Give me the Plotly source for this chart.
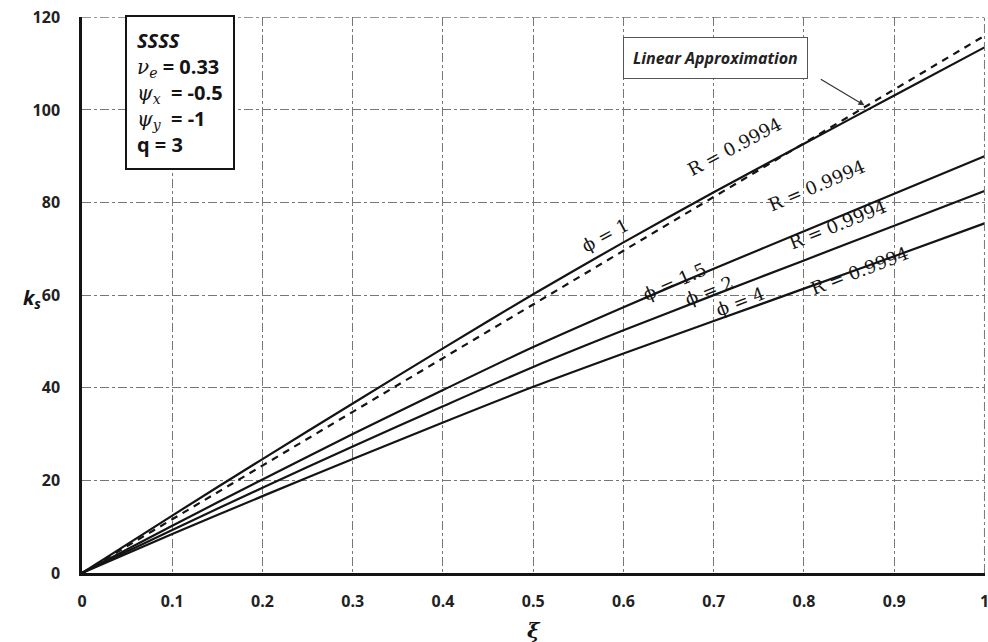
import plotly.graph_objects as go

# Non-dimensional parameter xi and the resulting k_s for each phi
xi = [0, 0.1, 0.2, 0.3, 0.4, 0.5, 0.6, 0.7, 0.8, 0.9, 1.0]
ks_phi1 = [0, 12.4, 24.6, 36.6, 48.5, 60.2, 71.4, 82.2, 92.7, 103.1, 113.5]
ks_phi15 = [0, 10.2, 20.2, 30.0, 39.5, 48.8, 57.4, 65.7, 73.8, 81.9, 90.0]
ks_phi2 = [0, 9.3, 18.4, 27.3, 36.0, 44.5, 52.4, 60.0, 67.5, 75.0, 82.5]
ks_phi4 = [0, 8.4, 16.6, 24.6, 32.5, 40.2, 47.4, 54.4, 61.4, 68.4, 75.5]
linear_slope = 116.0
ks_linear = [linear_slope * v for v in xi]

x_ticks = [0, 0.1, 0.2, 0.3, 0.4, 0.5, 0.6, 0.7, 0.8, 0.9, 1]
x_tick_labels = ["0", "0.1", "0.2", "0.3", "0.4", "0.5", "0.6", "0.7", "0.8", "0.9", "1"]
y_ticks = [0, 20, 40, 60, 80, 100, 120]
x_max = x_ticks[-1]
y_max = y_ticks[-1]

curve_labels = ["ϕ = 1", "ϕ = 1.5", "ϕ = 2", "ϕ = 4"]
r_label = "R = 0.9994"

fig = go.Figure()

for ks in [ks_phi1, ks_phi15, ks_phi2, ks_phi4]:
    fig.add_trace(go.Scatter(x=xi, y=ks, mode="lines",
                             line=dict(color="#141414", width=2.2, shape="spline", smoothing=0.8),
                             showlegend=False, hoverinfo="skip"))

fig.add_trace(go.Scatter(x=xi, y=ks_linear, mode="lines",
                         line=dict(color="#141414", width=2.2, dash="7px,6px"),
                         showlegend=False, hoverinfo="skip"))

serif = dict(family="DejaVu Serif", size=18, color="#141414")

# phi labels and R labels along each curve: (x, y, angle)
phi_pos = [(0.579, 72.9, -28), (0.657, 62.9, -24), (0.695, 61.0, -22), (0.729, 58.7, -21)]
r_pos = [(0.723, 92.1, -28), (0.814, 83.7, -23), (0.837, 75.3, -22), (0.862, 65.3, -21)]

for text, (x, y, ang) in zip(curve_labels, phi_pos):
    fig.add_annotation(x=x, y=y, text=text, showarrow=False, textangle=ang, font=serif)
for x, y, ang in r_pos:
    fig.add_annotation(x=x, y=y, text=r_label, showarrow=False, textangle=ang, font=serif)

# Callout for the linear approximation
fig.add_annotation(x=0.6, y=111.3, xref="x", yref="y", xanchor="left", yanchor="middle",
                   text="<b><i>Linear Approximation</i></b>", showarrow=False,
                   font=dict(family="Open Sans", size=16, color="#222"),
                   bordercolor="#555", borderwidth=1, borderpad=9, bgcolor="white")
fig.add_annotation(x=0.867, y=101.0, ax=0.817, ay=106.8, axref="x", ayref="y",
                   xref="x", yref="y", text="", showarrow=True,
                   arrowhead=2, arrowsize=1, arrowwidth=1.2, arrowcolor="#333")

# Parameter box
gk = '<span style="font-family:DejaVu Serif"><i>{}</i></span>'
info = ("<b><i>SSSS</i></b><br>"
        + gk.format("ν") + "<sub>" + gk.format("e") + "</sub><b> = 0.33</b><br>"
        + gk.format("ψ") + "<sub>" + gk.format("x") + "</sub><b>  = -0.5</b><br>"
        + gk.format("ψ") + "<sub>" + gk.format("y") + "</sub><b>  = -1</b><br>"
        "<b>q = 3</b>")
fig.add_annotation(x=0.048, y=1.004, xref="paper", yref="paper", xanchor="left", yanchor="top",
                   text=info, showarrow=False, align="left",
                   font=dict(family="Open Sans", size=20, color="#141414"),
                   bordercolor="#141414", borderwidth=2, borderpad=10, bgcolor="white")

# Axis titles (k_s is written horizontally)
fig.add_annotation(x=(43 - 82) / 903, y=(573 - 298) / 556, xref="paper", yref="paper",
                   xanchor="right", yanchor="middle",
                   text="<b><i>k<sub>s</sub></i></b>",
                   showarrow=False, font=dict(family="Open Sans", size=20, color="#141414"))
fig.add_annotation(x=0.5, y=-(630 - 573) / 556, xref="paper", yref="paper",
                   xanchor="center", yanchor="middle",
                   text="<b><i>ξ</i></b>",
                   showarrow=False, font=dict(family="DejaVu Serif", size=21, color="#141414"))

# Dash-dot frame lines at the far ends of both axes
edge = dict(color="#777", width=1, dash="dashdot")
fig.add_shape(type="line", x0=0, x1=x_max, y0=y_max, y1=y_max, xref="x", yref="y", line=edge)
fig.add_shape(type="line", x0=x_max, x1=x_max, y0=0, y1=y_max, xref="x", yref="y", line=edge)

grid = dict(showgrid=True, gridcolor="#777", gridwidth=1, griddash="dashdot")
tickfont = dict(family="Open Sans", size=16, color="#222", weight="bold")

fig.update_layout(
    width=988, height=642,
    margin=dict(l=82, r=3, t=17, b=69),
    paper_bgcolor="white", plot_bgcolor="white",
    xaxis=dict(range=[0, 1.0006], tickvals=x_ticks, ticktext=x_tick_labels,
               showline=True, linecolor="#141414", linewidth=2.5, automargin=False,
               ticks="", zeroline=False, tickfont=tickfont, ticklabelstandoff=12,
               ticklabeloverflow="allow",
               **grid),
    yaxis=dict(range=[0, 120.06], tickvals=y_ticks, automargin=False,
               showline=True, linecolor="#141414", linewidth=2.5,
               ticks="", zeroline=False, tickfont=tickfont, ticklabelstandoff=16,
               ticklabeloverflow="allow",
               **grid),
)

fig.write_html("out.html")
